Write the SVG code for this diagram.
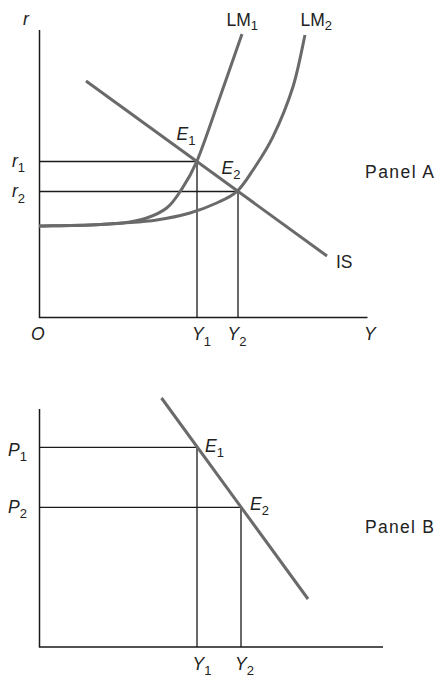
<svg xmlns="http://www.w3.org/2000/svg" width="435" height="679" viewBox="0 0 435 679">
<style>
.ax{stroke:#1a1a1a;stroke-width:1.5;fill:none}
.gd{stroke:#1a1a1a;stroke-width:1.3;fill:none}
.cv{stroke:#6a6a6a;stroke-width:3;fill:none;stroke-linecap:butt}
text{font-family:"Liberation Sans",Arial,sans-serif;font-size:17.5px;fill:#222}
.it{font-style:italic}
.sb{font-size:13px;font-style:normal}
</style>
<rect width="435" height="679" fill="#fff"/>
<g id="panelA">
  <g id="axesA">
    <path class="ax" d="M39.5,30 V317.5 H367.5"/>
  </g>
  <g id="connectors">
    <path class="gd" d="M39.5,161.5 H197 V317.5"/>
    <path class="gd" d="M39.5,191.5 H238 V317.5"/>
    <path class="gd" d="M39.5,447.3 H197 V647"/>
    <path class="gd" d="M39.5,507.3 H241 V647"/>
  </g>
  <g id="IS">
    <path class="cv" d="M86,81 L327,256"/>
    <text x="336" y="268">IS</text>
  </g>
  <g id="LM1">
    <path class="cv" d="M39,226 C47.5,225.8 76,225.5 90,225 C104,224.5 113.55,224.17 123,223 C132.45,221.83 139.42,220.5 146.7,218 C153.98,215.5 161.15,212.38 166.7,208 C172.25,203.62 175,199.42 180,191.7 C185,183.98 190.03,177.48 196.7,161.7 C203.37,145.92 212.45,118.28 220,97 C227.55,75.72 238.33,44.5 242,34"/>
    <text x="226.5" y="26">LM<tspan class="sb" dy="4">1</tspan></text>
  </g>
  <g id="LM2">
    <path class="cv" d="M39,226 C47.5,225.8 76,225.5 90,225 C104,224.5 111.88,223.83 123,223 C134.12,222.17 145.53,221.67 156.7,220 C167.87,218.33 180,215.83 190,213 C200,210.17 208.92,206.55 216.7,203 C224.48,199.45 230.65,197.2 236.7,191.7 C242.75,186.2 246.950,179.17 253,170 C259.05,160.83 266.33,150.58 273,136.7 C279.67,122.82 287.67,103.65 293,86.7 C298.33,69.75 303,43.5 305,35"/>
    <text x="300.5" y="26">LM<tspan class="sb" dy="4">2</tspan></text>
  </g>
  <g id="labelsA">
    <text class="it" x="23" y="25">r</text>
    <text class="it" x="12" y="167">r<tspan class="sb" dy="5">1</tspan></text>
    <text class="it" x="12" y="197">r<tspan class="sb" dy="6">2</tspan></text>
    <text class="it" x="176.5" y="140">E<tspan class="sb" dy="5">1</tspan></text>
    <text class="it" x="221.5" y="174">E<tspan class="sb" dy="5">2</tspan></text>
    <text x="365" y="178" textLength="69" lengthAdjust="spacing">Panel A</text>
    <text class="it" x="31" y="340">O</text>
    <text class="it" x="192" y="340">Y<tspan class="sb" dy="6">1</tspan></text>
    <text class="it" x="227.5" y="340">Y<tspan class="sb" dy="6">2</tspan></text>
    <text class="it" x="364" y="340">Y</text>
  </g>
</g>
<g id="panelB">
  <g id="axesB">
    <path class="ax" d="M39.5,409 V647 H383"/>
  </g>
  <g id="AD">
    <path class="cv" d="M161.5,398 L308,599"/>
  </g>
  <g id="labelsB">
    <text class="it" x="8" y="456">P<tspan class="sb" dy="5">1</tspan></text>
    <text class="it" x="8" y="513">P<tspan class="sb" dy="5">2</tspan></text>
    <text class="it" x="205" y="452">E<tspan class="sb" dy="5">1</tspan></text>
    <text class="it" x="250" y="510">E<tspan class="sb" dy="5">2</tspan></text>
    <text x="365" y="533" textLength="69" lengthAdjust="spacing">Panel B</text>
    <text class="it" x="192.5" y="670">Y<tspan class="sb" dy="5">1</tspan></text>
    <text class="it" x="235" y="670">Y<tspan class="sb" dy="5">2</tspan></text>
  </g>
</g>
</svg>
